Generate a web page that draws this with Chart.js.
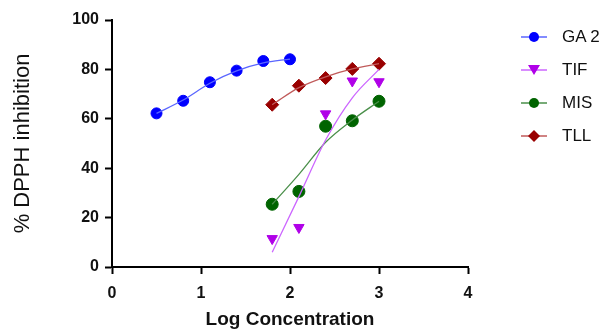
<!DOCTYPE html>
<html lang="en">
<head>
    <meta charset="UTF-8">
    <title>DPPH inhibition</title>
    <script src="https://cdn.jsdelivr.net/npm/chart.js"></script>
    <style>
        body { margin: 0; background: #fff; }
        #wrap { position: relative; width: 606px; height: 331px; }
        .legend-item { position: absolute; left: 520px; height: 20px; display: flex; align-items: center;
            font-family: "Liberation Sans", Arial, sans-serif; font-size: 17px; color: #111; }
        .legend-item canvas { margin-right: 14px; }
    </style>
</head>
<body>
<div id="wrap">
    <canvas id="dpph-chart" width="606" height="331"></canvas>
</div>

<script>
    // measured points
    const gaX = [0.5, 0.8, 1.1, 1.4, 1.7, 2.0];
    const gaY = [62.2, 67.3, 74.8, 79.5, 83.4, 84.1];
    const sampleX = [1.8, 2.1, 2.4, 2.7, 3.0];
    const tifY = [11.5, 16, 62, 75.3, 75];
    const misY = [25.4, 30.6, 57.0, 59.2, 67.1];
    const tllY = [65.7, 73.4, 76.5, 80.2, 82.3];

    // fitted curves
    const gaFit = [62.2, 67.6, 74.4, 79.4, 82.6, 84.2];
    const tifFit = [6, 28.5, 51.4, 68.5, 80];
    const misFit = [25.4, 37.5, 50.5, 59.5, 67.1];
    const tllFit = [65.7, 72.6, 77, 80.2, 82.3];

    const series = [
        {name: 'GA 2', x: gaX, y: gaY, fit: gaFit, color: '#0000ff', line: '#5a66ff', style: 'circle', r: 5.5, rot: 0},
        {name: 'TIF', x: sampleX, y: tifY, fit: tifFit, color: '#b000e8', line: '#cc66ff', style: 'triangle', r: 6, rot: 180},
        {name: 'MIS', x: sampleX, y: misY, fit: misFit, color: '#006400', line: '#4a8f4a', style: 'circle', r: 6, rot: 0},
        {name: 'TLL', x: sampleX, y: tllY, fit: tllFit, color: '#990000', line: '#c05a5a', style: 'rectRot', r: 6.5, rot: 0}
    ];

    const toPts = (xs, ys) => xs.map((x, i) => ({x: x, y: ys[i]}));

    const datasets = [];
    series.forEach(s => {
        datasets.push({
            label: s.name + ' fit',
            data: toPts(s.x, s.fit),
            showLine: true,
            borderColor: s.line,
            borderWidth: 1.3,
            pointRadius: 0,
            tension: 0.4,
            cubicInterpolationMode: 'monotone'
        });
    });
    series.forEach(s => {
        datasets.push({
            label: s.name,
            data: toPts(s.x, s.y),
            showLine: false,
            pointStyle: s.style,
            pointRotation: s.rot,
            pointRadius: s.r,
            pointBackgroundColor: s.color,
            pointBorderColor: s.color,
            pointBorderWidth: 1
        });
    });

    const tickFont = {family: '"Liberation Sans", Arial, sans-serif', size: 16, weight: 'bold'};
    const axisCommon = {
        grid: {display: true, drawOnChartArea: false, drawTicks: true, tickLength: 7, tickColor: '#000', tickWidth: 2},
        border: {display: true, color: '#000', width: 2},
        ticks: {color: '#111', font: tickFont}
    };

    new Chart('dpph-chart', {
        type: 'scatter',
        data: {datasets: datasets},
        options: {
            responsive: false,
            animation: false,
            layout: {padding: {left: 0, right: 138, top: 20, bottom: 0}},
            plugins: {legend: {display: false}, tooltip: {enabled: false}},
            scales: {
                x: Object.assign({}, axisCommon, {
                    min: 0, max: 4,
                    ticks: Object.assign({}, axisCommon.ticks, {stepSize: 1, padding: 10}),
                    title: {display: true, text: 'Log Concentration', color: '#111',
                        font: {family: '"Liberation Sans", Arial, sans-serif', size: 19, weight: 'bold'},
                        padding: {top: 0, bottom: 0}},
                    afterFit: s => { s.height = 64; }
                }),
                y: Object.assign({}, axisCommon, {
                    min: 0, max: 100,
                    ticks: Object.assign({}, axisCommon.ticks, {stepSize: 20, padding: 6}),
                    title: {display: true, text: '% DPPH inhibition', color: '#111',
                        font: {family: '"Liberation Sans", Arial, sans-serif', size: 22, weight: 'normal'},
                        padding: {top: 10, bottom: 0}},
                    afterFit: s => { s.width = 112; }
                })
            }
        }
    });

    // legend (line + marker)
    const wrap = document.getElementById('wrap');
    const legendY = [37, 70, 103, 136];
    series.forEach((s, i) => {
        const item = document.createElement('div');
        item.className = 'legend-item';
        item.style.top = (legendY[i] - 10) + 'px';
        const c = document.createElement('canvas');
        c.width = 28; c.height = 20;
        const ctx = c.getContext('2d');
        ctx.strokeStyle = s.line;
        ctx.lineWidth = 1.5;
        ctx.beginPath(); ctx.moveTo(1, 10); ctx.lineTo(27, 10); ctx.stroke();
        ctx.fillStyle = s.color;
        ctx.beginPath();
        if (s.style === 'circle') {
            ctx.arc(14, 10, 5, 0, Math.PI * 2);
        } else if (s.style === 'triangle') {
            ctx.moveTo(8, 5); ctx.lineTo(20, 5); ctx.lineTo(14, 15); ctx.closePath();
        } else {
            ctx.moveTo(14, 4); ctx.lineTo(20, 10); ctx.lineTo(14, 16); ctx.lineTo(8, 10); ctx.closePath();
        }
        ctx.fill();
        item.appendChild(c);
        const t = document.createElement('span');
        t.textContent = s.name;
        item.appendChild(t);
        wrap.appendChild(item);
    });
</script>
</body>
</html>
